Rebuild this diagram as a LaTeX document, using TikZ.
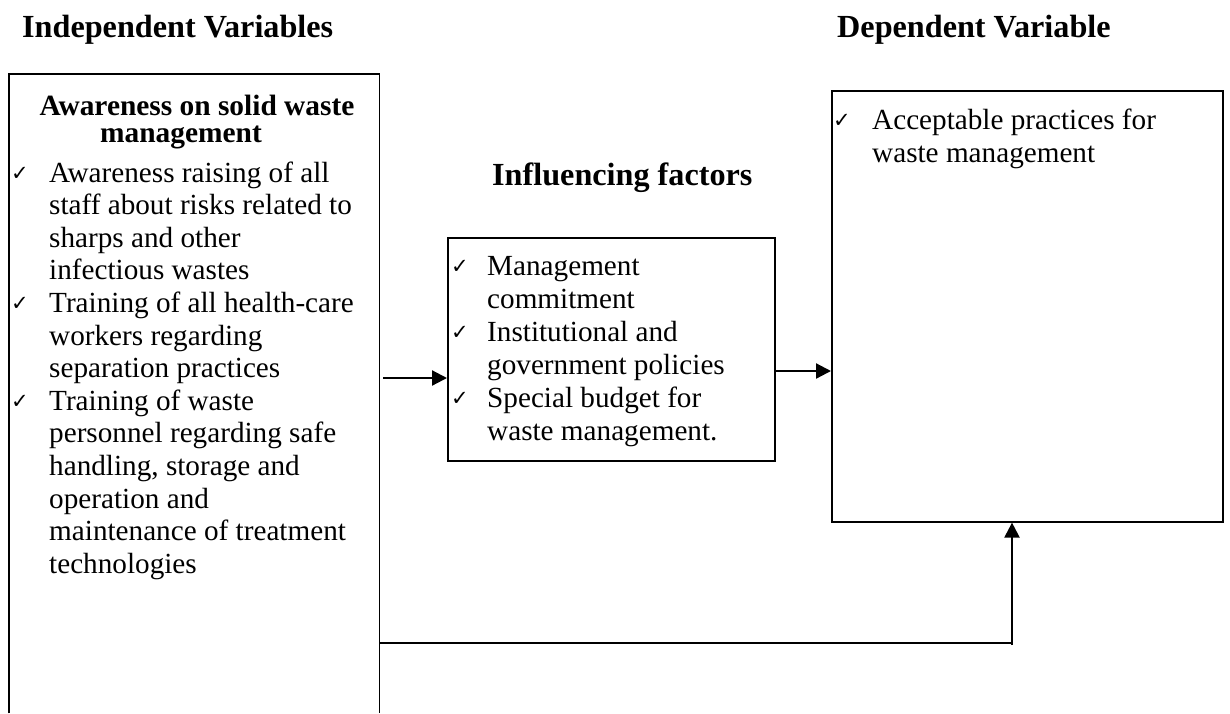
\documentclass[tikz,border=0pt]{standalone}
\usepackage{fontspec}
\setmainfont{Liberation Serif}
\newfontfamily\symfnt{DejaVu Sans}
\usetikzlibrary{arrows.meta,calc}
\newcommand\bodyfnt{\fontsize{29.2}{32.6}\selectfont}
\newcommand\ttlfnt{\fontsize{29.4}{32.6}\selectfont\bfseries}
\newcommand\headfnt{\fontsize{32.2}{36}\selectfont\bfseries}
\newcommand\chkfnt{\fontsize{21}{22}\selectfont\symfnt}
\tikzset{
  box/.style={draw, line width=1.6pt, inner sep=0pt, anchor=north west},
  txt/.style={anchor=base west, inner sep=0pt, font=\bodyfnt},
  ttl/.style={anchor=base, inner sep=0pt, font=\ttlfnt},
  hd/.style={anchor=base west, inner sep=0pt, font=\headfnt},
  chk/.style={anchor=base west, inner sep=0pt, font=\chkfnt},
  arr/.style={line width=2.2pt, -{Triangle[length=15pt,width=15pt]}},
  conn/.style={line width=1.6pt}
}
\begin{document}
\begin{tikzpicture}[x=1pt,y=-1pt]
\useasboundingbox (0,0) rectangle (1230,713);
% headings
\node[hd] (hiv) at (22,37) {Independent Variables};
\node[hd] (hdv) at (837,37) {Dependent Variable};
\node[hd] (hif) at (492,185) {Influencing factors};
% left box (open at the bottom)
\node[inner sep=0pt, minimum width=370pt, minimum height=639pt, anchor=north west] (iv) at (9,74) {};
\draw[line width=1.6pt] (iv.south west) -- (iv.north west) -- (iv.north east) -- (iv.south east);
\node[ttl] (t1) at (197,115) {Awareness on solid waste};
\node[ttl] (t2) at (181,142) {management};
\foreach [count=\i] \s in {{Awareness raising of all},{staff about risks related to},{sharps and other},{infectious wastes},{Training of all health-care},{workers regarding},{separation practices},{Training of waste},{personnel regarding safe},{handling, storage and},{operation and},{maintenance of treatment},{technologies}}
  \node[txt] (l\i) at (49,{182+32.6*(\i-1)}) {\s};
\foreach \i in {1,5,8}
  \node[chk] (lc\i) at (11,{180+32.6*(\i-1)}) {✓};
% middle box
\node[box, minimum width=327pt, minimum height=223pt] (mf) at (447,237) {};
\foreach [count=\i] \s in {{Management},{commitment},{Institutional and},{government policies},{Special budget for},{waste management.}}
  \node[txt] (m\i) at (487,{275+33*(\i-1)}) {\s};
\foreach \i in {1,3,5}
  \node[chk] (mc\i) at (451,{273+33*(\i-1)}) {✓};
% right box
\node[box, minimum width=391pt, minimum height=431pt] (dv) at (831,90) {};
\node[txt] (r1) at (872,129) {Acceptable practices for};
\node[txt] (r2) at (872,162) {waste management};
\node[chk] (rc1) at (833,127) {✓};
% connectors
\coordinate (a1) at (383,378);
\draw[arr] (a1) -- (a1 -| mf.west);
\coordinate (a2) at (mf.east |- 0,371);
\draw[arr] (a2) -- (a2 -| dv.west);
\coordinate (b1) at (iv.east |- 0,643);
\coordinate (b2) at (1012,643);
\draw[conn] (b1) -- (b2);
\draw[arr] ($(b2)+(0,2)$) -- (b2 |- dv.south);
\end{tikzpicture}
\end{document}
